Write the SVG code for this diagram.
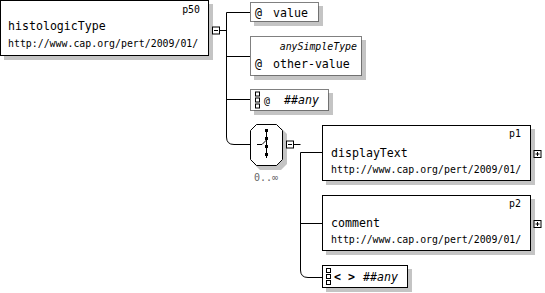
<svg xmlns="http://www.w3.org/2000/svg" width="545" height="293" viewBox="0 0 545 293">
  <style>
    text { font-family: "DejaVu Sans Mono", "Liberation Mono", monospace; fill: #000; }
    .name { font-size: 11.6px; }
    .ns { font-size: 9.9px; }
    .small { font-size: 9.9px; }
    .it { font-style: italic; }
    .card { font-size: 10px; fill: #666; }
    .box { fill: #fff; stroke: #000; stroke-width: 1; }
    .dotbox { fill: #fff; stroke: #000; stroke-width: 1; stroke-dasharray: 1 1; }
    .shadow { fill: #c4c4c4; }
    .wire { fill: none; stroke: #000; stroke-width: 1; }
    .sq { fill: #fff; stroke: #000; stroke-width: 1; }
  </style>
  <defs>
    <!-- expand/collapse toggles -->
    <g id="minus">
      <rect class="sq" x="-3.5" y="-3.5" width="7" height="7"/>
      <line x1="-2" y1="0" x2="2" y2="0" stroke="#000"/>
    </g>
    <g id="plus">
      <rect class="sq" x="-3.5" y="-3.5" width="7" height="7"/>
      <line x1="-2" y1="0" x2="2" y2="0" stroke="#000"/>
      <line x1="0" y1="-2" x2="0" y2="2" stroke="#000"/>
    </g>
    <!-- wildcard marker: three stacked squares -->
    <g id="stack">
      <rect class="sq" x="0.5" y="0.5" width="4" height="4"/>
      <rect class="sq" x="0.5" y="6.5" width="4" height="4"/>
      <rect class="sq" x="0.5" y="12.5" width="4" height="4"/>
    </g>
  </defs>

  <!-- connectors -->
  <g id="connectors">
    <line class="wire" x1="220" y1="30.5" x2="226.5" y2="30.5"/>
    <path class="wire" d="M250 12.5 H226.5 V137 Q226.5 144.5 234 144.5 H250"/>
    <line class="wire" x1="226.5" y1="56.5" x2="250" y2="56.5"/>
    <line class="wire" x1="226.5" y1="99.5" x2="250" y2="99.5"/>
    <line class="wire" x1="294" y1="144.5" x2="300.5" y2="144.5"/>
    <path class="wire" d="M322 152.5 H300.5 V270 Q300.5 277.5 308 277.5 H322"/>
    <line class="wire" x1="300.5" y1="223.5" x2="322" y2="223.5"/>
  </g>

  <!-- root element -->
  <g id="histologicType">
    <rect class="shadow" x="4" y="4" width="209" height="56"/>
    <rect class="box" x="0.5" y="0.5" width="208" height="55"/>
    <text class="small" x="200" y="13" text-anchor="end">p50</text>
    <text class="name" x="8" y="30">histologicType</text>
    <text class="ns" x="8" y="47">http://www.cap.org/pert/2009/01/</text>
    <use href="#minus" x="216" y="30.5"/>
  </g>

  <!-- attributes -->
  <g id="attr-value">
    <rect class="shadow" x="254" y="6" width="69" height="20"/>
    <rect class="dotbox" x="250.5" y="2.5" width="68" height="19"/>
    <text class="name" x="255" y="17">@</text>
    <text class="name" x="273" y="17">value</text>
  </g>

  <g id="attr-other-value">
    <rect class="shadow" x="254" y="40" width="112" height="40"/>
    <rect class="dotbox" x="250.5" y="36.5" width="111" height="39"/>
    <text class="small it" x="357" y="49.5" text-anchor="end">anySimpleType</text>
    <text class="name" x="255" y="68">@</text>
    <text class="name" x="273" y="68">other-value</text>
  </g>

  <g id="attr-any">
    <rect class="shadow" x="254" y="93" width="79" height="22"/>
    <rect class="dotbox" x="250.5" y="89.5" width="78" height="21"/>
    <use href="#stack" x="255" y="91.5"/>
    <text class="small" x="264" y="104">@</text>
    <text class="name it" x="284" y="104">##any</text>
  </g>

  <!-- sequence compositor -->
  <g id="sequence">
    <path class="shadow" d="M260 128 H281 L287 134 V164 L281 170 H260 L254 164 V134 Z"/>
    <path class="box" d="M256.5 124.5 H276.5 L282.5 130.5 V159.5 L276.5 165.5 H256.5 L250.5 159.5 V130.5 Z"/>
    <line x1="266.5" y1="130" x2="266.5" y2="158" stroke="#000"/>
    <path class="wire" d="M257 144.5 H262 L266.5 140"/>
    <rect x="265" y="129" width="3" height="3" fill="#000"/>
    <rect x="265" y="137" width="3" height="3" fill="#000"/>
    <rect x="265" y="145" width="3" height="3" fill="#000"/>
    <rect x="265" y="153" width="3" height="3" fill="#000"/>
    <text class="card" x="266" y="181" text-anchor="middle">0..∞</text>
    <use href="#minus" x="290" y="144.5"/>
  </g>

  <!-- child elements -->
  <g id="displayText">
    <rect class="shadow" x="326" y="129" width="209" height="56"/>
    <rect class="box" x="322.5" y="125.5" width="208" height="55"/>
    <text class="small" x="521" y="137" text-anchor="end">p1</text>
    <text class="name" x="331" y="157">displayText</text>
    <text class="ns" x="331" y="173">http://www.cap.org/pert/2009/01/</text>
    <use href="#plus" x="537.5" y="154"/>
  </g>

  <g id="comment">
    <rect class="shadow" x="326" y="199" width="209" height="56"/>
    <rect class="box" x="322.5" y="195.5" width="208" height="55"/>
    <text class="small" x="521" y="207" text-anchor="end">p2</text>
    <text class="name" x="331" y="227">comment</text>
    <text class="ns" x="331" y="243">http://www.cap.org/pert/2009/01/</text>
    <use href="#plus" x="537.5" y="224"/>
  </g>

  <g id="element-any">
    <rect class="shadow" x="326" y="269" width="86" height="23"/>
    <rect class="box" x="322.5" y="265.5" width="85" height="22"/>
    <use href="#stack" x="326" y="268"/>
    <text class="name" x="334" y="281" font-weight="bold">&lt; &gt;</text>
    <text class="name it" x="363" y="281">##any</text>
  </g>
</svg>
